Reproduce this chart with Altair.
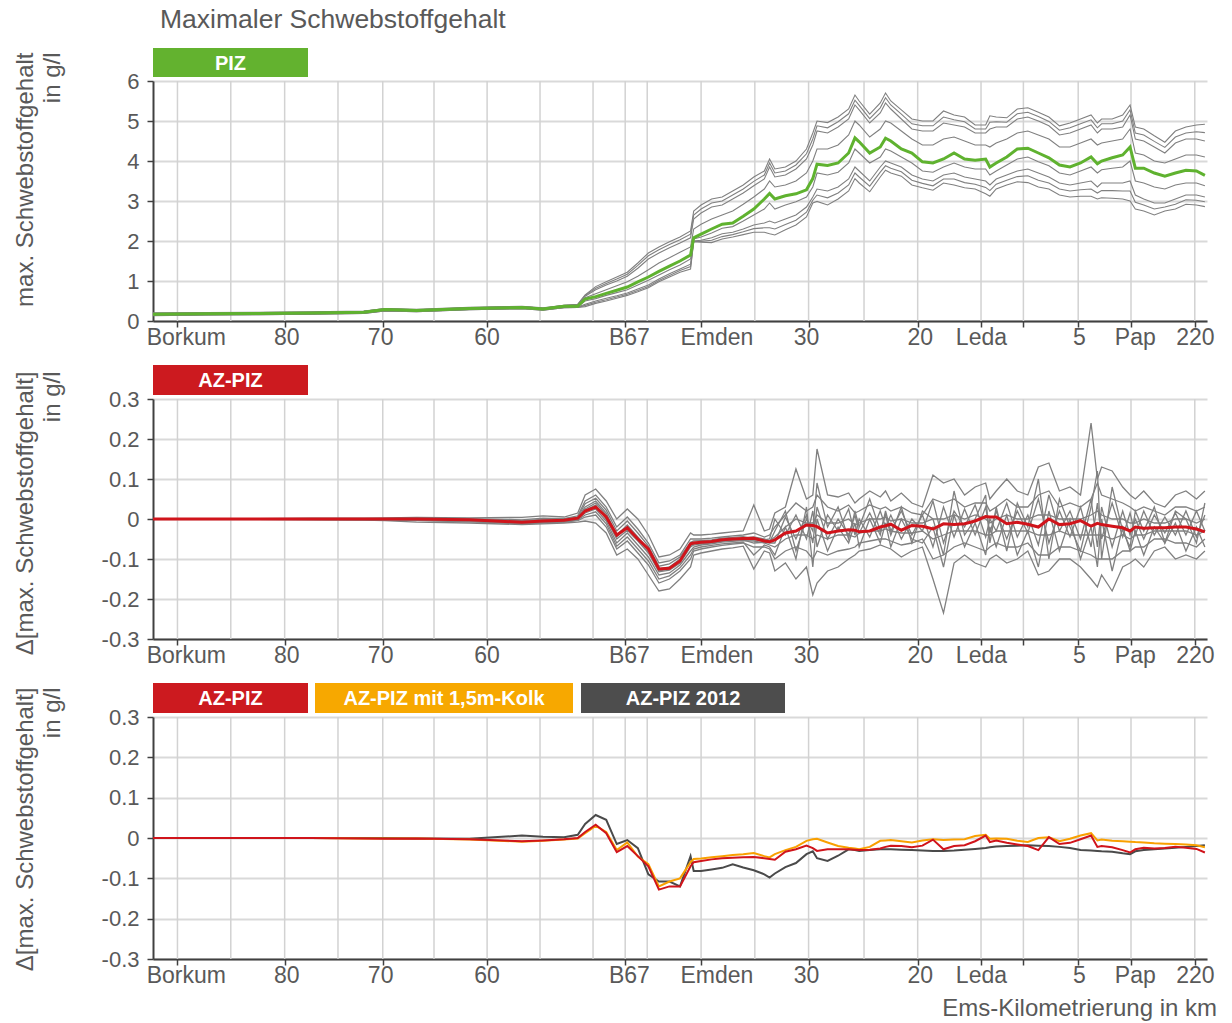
import altair as alt
import pandas as pd

FONT = "Liberation Sans"
TXT = "#595959"
AXC = "#404040"
W = 1054
H1, H2, H3 = 240, 240, 242

# ---------------- x axis (station along the river, 0..100) ----------------
TICK_POS = [2.32, 12.49, 21.8, 31.7, 44.8, 52.0, 62.2, 72.55, 78.56, 82.58, 87.78, 92.79, 98.84]
EXTRA_GRID = [7.38, 17.55, 26.66, 36.72, 41.75, 46.89, 57.1, 67.46]
LABEL_POS = [3.16, 12.7, 21.6, 31.7, 45.2, 53.5, 62.0, 72.8, 78.6, 87.9, 93.2, 98.9]
LABEL_TXT = ["Borkum", "80", "70", "60", "B67", "Emden", "30", "20", "Leda", "5", "Pap", "220"]

STATION = [0, 5, 10, 15, 20, 22, 25, 30, 35, 37, 39, 40.3,
           41, 42, 43, 44, 45, 46, 47, 48, 49, 50, 51, 51.3,
           52, 53, 54, 55, 56, 57, 58, 58.5, 59, 60, 61, 62, 62.6,
           63, 64, 65, 66, 66.6, 67, 68, 69, 69.5,
           70, 71, 72, 73, 74, 75, 76, 77, 78, 79, 79.4,
           80, 81, 82, 83, 84, 85, 86, 87, 88, 89, 89.6,
           90, 91, 92, 92.7, 93.2, 94, 95, 96, 97, 98, 99, 99.8]

# ---------------- panel 1: PIZ (g/l) ----------------
PIZ_MEAN = [.17, .18, .19, .2, .22, .29, .26, .31, .34, .3, .37, .37,
            .55, .61, .69, .77, .85, .98, 1.1, 1.24, 1.37, 1.5, 1.65, 2.08,
            2.17, 2.3, 2.42, 2.45, 2.62, 2.8, 3.05, 3.19, 3.05, 3.13, 3.18, 3.28, 3.56,
            3.92, 3.89, 3.95, 4.2, 4.58, 4.48, 4.2, 4.35, 4.57,
            4.5, 4.3, 4.2, 3.98, 3.95, 4.05, 4.2, 4.05, 4.02, 4.05, 3.85,
            3.95, 4.1, 4.3, 4.32, 4.2, 4.08, 3.9, 3.85, 3.95, 4.1, 3.93,
            4.0, 4.08, 4.15, 4.35, 3.82, 3.82, 3.7, 3.62, 3.7, 3.77, 3.75, 3.64]
PIZ_RUN_B = [.13, .15, .16, .17, .19, .25, .23, .28, .31, .27, .33, .34,
             .36, .44, .5, .57, .64, .73, .83, .98, 1.1, 1.22, 1.3, 1.98,
             1.97, 1.96, 2.05, 2.1, 2.16, 2.22, 2.22, 2.18, 2.15, 2.28, 2.4, 2.6, 2.95,
             2.99, 2.9, 3.05, 3.25, 3.56, 3.45, 3.23, 3.6, 3.77,
             3.7, 3.62, 3.4, 3.33, 3.27, 3.45, 3.4, 3.33, 3.3, 3.18, 3.12,
             3.3, 3.4, 3.48, 3.46, 3.35, 3.3, 3.15, 3.1, 3.12, 3.12, 3.05,
             3.08, 3.07, 3.05, 3.0, 2.8, 2.75, 2.65, 2.75, 2.8, 2.92, 2.9, 2.86]
PIZ_RUN_L3 = [.14, .15, .16, .17, .19, .25, .23, .28, .31, .27, .33, .34,
              .39, .47, .53, .6, .67, .76, .86, 1.01, 1.14, 1.26, 1.36, 1.99,
              1.99, 2.02, 2.11, 2.16, 2.23, 2.31, 2.33, 2.33, 2.3, 2.41, 2.52, 2.72, 3.02,
              3.15, 3.08, 3.2, 3.4, 3.7, 3.6, 3.37, 3.72, 3.88,
              3.82, 3.73, 3.52, 3.44, 3.38, 3.55, 3.55, 3.46, 3.42, 3.34, 3.26,
              3.42, 3.52, 3.61, 3.63, 3.52, 3.45, 3.3, 3.25, 3.28, 3.3, 3.2,
              3.26, 3.26, 3.25, 3.25, 2.97, 2.9, 2.8, 2.85, 2.92, 3.03, 3.02, 2.98]
PIZ_RUN_L2 = [.14, .16, .17, .18, .2, .26, .24, .29, .32, .28, .34, .35,
              .42, .5, .57, .63, .7, .8, .9, 1.05, 1.18, 1.3, 1.42, 2.0,
              2.02, 2.08, 2.18, 2.22, 2.3, 2.4, 2.45, 2.5, 2.45, 2.55, 2.65, 2.85, 3.1,
              3.3, 3.25, 3.35, 3.55, 3.85, 3.75, 3.5, 3.85, 4.0,
              3.95, 3.85, 3.65, 3.55, 3.5, 3.65, 3.7, 3.6, 3.55, 3.5, 3.4,
              3.55, 3.65, 3.75, 3.8, 3.7, 3.6, 3.45, 3.4, 3.45, 3.5, 3.35,
              3.45, 3.45, 3.45, 3.5, 3.15, 3.05, 2.95, 2.95, 3.05, 3.15, 3.15, 3.1]
PIZ_RUN_L1 = [.16, .17, .18, .19, .21, .28, .25, .3, .33, .29, .36, .36,
              .5, .56, .64, .71, .78, .9, 1.02, 1.15, 1.28, 1.4, 1.55, 2.05,
              2.1, 2.2, 2.32, 2.36, 2.5, 2.65, 2.8, 2.95, 2.8, 2.9, 2.98, 3.1, 3.35,
              3.7, 3.65, 3.72, 3.95, 4.3, 4.2, 3.95, 4.1, 4.3,
              4.25, 4.1, 3.95, 3.75, 3.72, 3.85, 3.95, 3.85, 3.8, 3.8, 3.65,
              3.75, 3.9, 4.05, 4.1, 3.98, 3.88, 3.7, 3.65, 3.75, 3.85, 3.7,
              3.78, 3.82, 3.85, 4.0, 3.5, 3.45, 3.35, 3.3, 3.4, 3.45, 3.45, 3.38]
PIZ_RUN_U2 = [.18, .19, .2, .21, .23, .3, .27, .32, .35, .31, .38, .39,
              .58, .68, .78, .88, .98, 1.12, 1.28, 1.45, 1.58, 1.72, 1.85, 2.3,
              2.42, 2.55, 2.65, 2.75, 2.92, 3.1, 3.3, 3.5, 3.35, 3.4, 3.5, 3.7, 4.0,
              4.3, 4.3, 4.4, 4.65, 5.0, 4.9, 4.6, 4.8, 5.0,
              4.95, 4.75, 4.55, 4.4, 4.4, 4.55, 4.6, 4.5, 4.4, 4.4, 4.35,
              4.45, 4.55, 4.7, 4.75, 4.65, 4.55, 4.35, 4.35, 4.45, 4.55, 4.4,
              4.45, 4.5, 4.55, 4.8, 4.2, 4.15, 4.0, 3.95, 4.05, 4.15, 4.15, 4.1]
PIZ_RUN_U1 = [.19, .2, .21, .22, .24, .3, .28, .33, .36, .32, .38, .4,
              .62, .78, .9, 1.0, 1.12, 1.32, 1.55, 1.7, 1.83, 1.95, 2.08, 2.55,
              2.7, 2.85, 2.9, 3.05, 3.2, 3.38, 3.55, 3.85, 3.6, 3.65, 3.8, 4.05, 4.4,
              4.75, 4.7, 4.85, 5.05, 5.4, 5.28, 4.95, 5.2, 5.45,
              5.3, 5.05, 4.8, 4.75, 4.75, 4.95, 4.9, 4.85, 4.7, 4.7, 4.8,
              4.85, 4.85, 5.05, 5.1, 5.0, 4.88, 4.65, 4.7, 4.8, 4.9, 4.7,
              4.8, 4.8, 4.85, 5.15, 4.55, 4.5, 4.35, 4.2, 4.45, 4.55, 4.55, 4.5]
PIZ_RUN_U3 = [.2, .2, .21, .22, .24, .31, .28, .33, .36, .32, .39, .41,
              .64, .82, .94, 1.05, 1.17, 1.39, 1.63, 1.78, 1.91, 2.03, 2.17, 2.65,
              2.8, 2.95, 3.0, 3.15, 3.3, 3.49, 3.65, 3.95, 3.7, 3.75, 3.9, 4.18, 4.55,
              4.88, 4.83, 4.98, 5.18, 5.52, 5.39, 5.06, 5.33, 5.58,
              5.4, 5.17, 4.93, 4.88, 4.88, 5.1, 5.03, 4.98, 4.8, 4.8, 4.97,
              4.98, 4.97, 5.18, 5.22, 5.11, 4.99, 4.77, 4.83, 4.93, 5.03, 4.83,
              4.93, 4.93, 5.0, 5.28, 4.7, 4.65, 4.49, 4.34, 4.6, 4.7, 4.73, 4.71]
PIZ_RUN_T = [.2, .21, .22, .23, .25, .31, .29, .34, .37, .33, .39, .42,
             .65, .86, .98, 1.1, 1.22, 1.45, 1.7, 1.85, 1.98, 2.1, 2.25, 2.75,
             2.9, 3.05, 3.1, 3.25, 3.4, 3.6, 3.75, 4.05, 3.8, 3.85, 4.0, 4.3, 4.7,
             5.0, 4.96, 5.1, 5.3, 5.65, 5.5, 5.17, 5.45, 5.7,
             5.5, 5.28, 5.05, 5.0, 5.0, 5.25, 5.15, 5.1, 4.9, 4.9, 5.13,
             5.1, 5.08, 5.3, 5.33, 5.22, 5.1, 4.88, 4.95, 5.05, 5.15, 4.95,
             5.05, 5.05, 5.15, 5.4, 4.85, 4.8, 4.63, 4.47, 4.75, 4.85, 4.9, 4.92]

# ---------------- panel 2: AZ-PIZ (delta, g/l) ----------------
AZ_MEAN = [0, 0, 0, 0, 0, 0, 0, -0.002, -0.008, -0.005, -0.003, 0.002,
           0.02, 0.03, 0.005, -0.04, -0.022, -0.05, -0.075, -0.125, -0.123, -0.105, -0.062, -0.06,
           -0.058, -0.056, -0.052, -0.05, -0.049, -0.048, -0.055, -0.057, -0.052, -0.035, -0.03, -0.015, -0.016,
           -0.019, -0.035, -0.03, -0.027, -0.028, -0.032, -0.03, -0.02, -0.017,
           -0.013, -0.028, -0.016, -0.018, -0.025, -0.012, -0.014, -0.012, -0.005, 0.006, 0.005,
           0.005, -0.012, -0.008, -0.013, -0.02, 0.0, -0.014, -0.012, -0.004, -0.018, -0.011,
           -0.014, -0.018, -0.022, -0.03, -0.02, -0.023, -0.022, -0.022, -0.02, -0.02, -0.025, -0.032]
AZ_RUN_1 = [0, 0, 0.001, 0.002, 0.002, 0.003, 0.004, 0.003, 0.004, 0.008, 0.005, 0.015,
            0.06, 0.075, 0.045, 0.0, 0.025, 0.0, -0.04, -0.095, -0.09, -0.075, -0.035, -0.04,
            -0.04, -0.038, -0.035, -0.032, -0.03, 0.035, -0.03, -0.025, 0.015, 0.03, 0.125, 0.05, 0.06,
            0.175, 0.06, 0.055, 0.065, 0.04, 0.05, 0.07, 0.055, 0.07,
            0.045, 0.065, 0.04, 0.03, 0.11, 0.09, 0.1, 0.06, 0.08, 0.09, 0.05,
            0.07, 0.1, 0.07, 0.06, 0.13, 0.14, 0.07, 0.08, 0.06, 0.24, 0.1,
            0.13, 0.12, 0.08, 0.06, 0.05, 0.07, 0.04, 0.03, 0.06, 0.07, 0.05, 0.07]
AZ_RUN_2 = [0, 0, 0, 0.001, 0.001, 0.001, 0.002, 0.001, -0.002, 0.002, 0.001, 0.008,
            0.045, 0.06, 0.03, -0.02, 0.005, -0.025, -0.06, -0.11, -0.105, -0.09, -0.05, -0.05,
            -0.05, -0.048, -0.045, -0.042, -0.04, -0.035, -0.045, -0.04, -0.02, 0.01, 0.04, 0.02, 0.03,
            0.06, 0.03, 0.02, 0.035, 0.015, 0.02, 0.035, 0.025, 0.03,
            0.02, 0.03, 0.015, 0.01, 0.05, 0.04, 0.05, 0.03, 0.04, 0.04, 0.02,
            0.03, 0.05, 0.03, 0.03, 0.06, 0.07, 0.03, 0.04, 0.03, 0.05, 0.09,
            0.06, 0.05, 0.04, 0.03, 0.02, 0.03, 0.02, 0.01, 0.03, 0.03, 0.02, 0.03]
AZ_RUN_3 = [0, 0, 0, 0, 0, 0, 0, -0.002, -0.006, -0.003, -0.002, 0.003,
            0.03, 0.045, 0.015, -0.04, -0.015, -0.045, -0.075, -0.125, -0.12, -0.1, -0.065, -0.06,
            -0.058, -0.055, -0.052, -0.05, -0.047, -0.045, -0.05, -0.055, -0.045, -0.02, 0.0, -0.01, -0.01,
            0.01, -0.01, -0.01, 0.0, -0.015, -0.01, 0.0, 0.0, 0.005,
            -0.005, 0.0, -0.01, -0.01, 0.0, 0.0, 0.01, 0.0, 0.01, 0.0, -0.01,
            0.0, 0.01, 0.0, 0.0, 0.01, 0.01, 0.0, 0.0, 0.0, 0.01, 0.02,
            0.01, 0.0, 0.0, -0.01, -0.01, 0.0, -0.01, -0.01, 0.0, 0.0, -0.01, 0.0]
AZ_RUN_4 = [0, 0, 0, 0, -0.001, -0.001, -0.002, -0.004, -0.009, -0.006, -0.005, 0.0,
            0.015, 0.025, -0.005, -0.06, -0.035, -0.065, -0.095, -0.14, -0.135, -0.115, -0.08, -0.07,
            -0.065, -0.062, -0.058, -0.056, -0.054, -0.055, -0.06, -0.065, -0.07, -0.05, -0.04, -0.04, -0.05,
            -0.04, -0.05, -0.04, -0.04, -0.045, -0.035, -0.03, -0.03, -0.025,
            -0.03, -0.035, -0.035, -0.03, -0.05, -0.04, -0.03, -0.03, -0.03, -0.04, -0.04,
            -0.03, -0.03, -0.03, -0.03, -0.04, -0.04, -0.03, -0.04, -0.04, -0.04, -0.04,
            -0.04, -0.05, -0.04, -0.05, -0.04, -0.04, -0.03, -0.03, -0.03, -0.03, -0.04, -0.03]
AZ_RUN_5 = [0, 0, 0, -0.001, -0.002, -0.003, -0.004, -0.007, -0.012, -0.01, -0.008, -0.004,
            0.005, 0.01, -0.02, -0.075, -0.055, -0.085, -0.115, -0.16, -0.15, -0.13, -0.1, -0.08,
            -0.075, -0.07, -0.066, -0.063, -0.06, -0.07, -0.07, -0.075, -0.1, -0.08, -0.07, -0.08, -0.1,
            -0.08, -0.09, -0.08, -0.075, -0.07, -0.06, -0.055, -0.05, -0.05,
            -0.055, -0.065, -0.06, -0.05, -0.1, -0.09, -0.07, -0.06, -0.07, -0.08, -0.07,
            -0.06, -0.07, -0.07, -0.06, -0.09, -0.09, -0.07, -0.07, -0.08, -0.09, -0.1,
            -0.1, -0.1, -0.08, -0.08, -0.07, -0.07, -0.05, -0.05, -0.06, -0.06, -0.07, -0.05]
AZ_RUN_6 = [0, 0, -0.001, -0.002, -0.003, -0.004, -0.008, -0.01, -0.014, -0.012, -0.01, -0.008,
            -0.005, -0.01, -0.035, -0.09, -0.075, -0.1, -0.14, -0.18, -0.175, -0.15, -0.12, -0.09,
            -0.085, -0.08, -0.075, -0.072, -0.068, -0.125, -0.08, -0.085, -0.13, -0.11, -0.15, -0.12, -0.19,
            -0.16, -0.13, -0.12, -0.1, -0.09, -0.08, -0.075, -0.065, -0.07,
            -0.075, -0.095, -0.08, -0.07, -0.15, -0.235, -0.11, -0.09, -0.11, -0.12, -0.1,
            -0.09, -0.11, -0.1, -0.08, -0.14, -0.13, -0.1, -0.1, -0.12, -0.15, -0.17,
            -0.14, -0.18, -0.12, -0.11, -0.1, -0.12, -0.08, -0.07, -0.1, -0.09, -0.1, -0.08]
AZ_RUN_7 = [0, 0, 0, 0, 0, 0, 0, -0.001, -0.004, -0.001, 0.0, 0.005,
            0.038, 0.052, 0.022, -0.03, -0.005, -0.035, -0.068, -0.118, -0.112, -0.095, -0.058, -0.055,
            -0.054, -0.052, -0.048, -0.046, -0.044, -0.05, -0.052, -0.05,
            0.0, -0.04, 0.01, -0.05, 0.02, -0.07, 0.01, -0.03, 0.025, -0.04, 0.0, -0.045, 0.02, -0.02,
            0.01, -0.05, 0.0, -0.03, 0.045, -0.06, 0.02, -0.02, 0.035, -0.045, 0.0,
            -0.03, 0.04, -0.045, 0.01, -0.065, 0.06, -0.03, 0.02, -0.05, 0.05, -0.07,
            0.03, -0.07, 0.02, -0.04, 0.0, -0.05, 0.01, -0.035, 0.015, -0.04, 0.02, -0.03]
AZ_RUN_8 = [0, 0, 0, 0, 0, 0, 0, -0.003, -0.01, -0.008, -0.006, 0.001,
            0.022, 0.035, 0.0, -0.05, -0.028, -0.055, -0.085, -0.132, -0.128, -0.11, -0.07, -0.065,
            -0.062, -0.06, -0.056, -0.053, -0.052, -0.06, -0.058, -0.06,
            -0.06, 0.005, -0.05, 0.01, -0.06, 0.03, -0.05, 0.0, -0.04, 0.01, -0.035, 0.015, -0.04, 0.02,
            -0.03, 0.02, -0.04, 0.01, -0.07, 0.03, -0.045, 0.025, -0.04, 0.03, -0.035,
            0.02, -0.05, 0.02, -0.035, 0.05, -0.06, 0.02, -0.045, 0.03, -0.07, 0.04,
            -0.05, 0.04, -0.045, 0.015, -0.04, 0.02, -0.04, 0.005, -0.04, 0.02, -0.045, 0.01]
AZ_RUN_9 = [0, 0, 0, 0, 0, 0, -0.001, -0.003, -0.007, -0.004, -0.003, 0.002,
            0.025, 0.04, 0.01, -0.045, -0.02, -0.05, -0.08, -0.13, -0.125, -0.105, -0.068, -0.062,
            -0.06, -0.058, -0.054, -0.052, -0.05, -0.052, -0.055, -0.058,
            -0.03, 0.02, -0.08, 0.0, -0.03, 0.09, -0.02, 0.03, -0.05, 0.02, -0.02, 0.05, -0.03, 0.01,
            -0.04, 0.03, -0.06, 0.02, 0.0, -0.09, 0.07, -0.04, 0.0, 0.06, -0.06,
            0.03, -0.08, 0.04, -0.02, 0.1, -0.1, 0.05, -0.02, -0.08, 0.03, 0.12,
            -0.1, 0.08, -0.03, -0.07, 0.02, -0.03, 0.03, -0.06, 0.02, 0.0, -0.06, 0.04]
AZ_RUN_10 = [0, 0, 0, 0, 0, -0.001, -0.003, -0.005, -0.011, -0.009, -0.007, -0.002,
             0.01, 0.018, -0.012, -0.068, -0.045, -0.075, -0.105, -0.15, -0.142, -0.122, -0.09, -0.075,
             -0.07, -0.066, -0.062, -0.06, -0.058, -0.09, -0.065, -0.07,
             -0.09, -0.02, -0.1, 0.03, -0.12, 0.0, -0.08, -0.02, -0.06, -0.01, -0.07, 0.0, -0.06, -0.01,
             -0.07, 0.0, -0.05, -0.06, -0.02, -0.12, 0.01, -0.07, -0.01, -0.09, -0.02,
             -0.07, 0.01, -0.09, -0.03, -0.12, 0.02, -0.08, 0.0, -0.1, -0.02, -0.12,
             0.0, -0.13, -0.02, -0.08, -0.03, -0.09, -0.02, -0.06, -0.01, -0.08, -0.02, -0.07]

# ---------------- panel 3: comparison (delta, g/l) ----------------
CMP_AZ = [0, 0, 0, 0, -0.001, -0.002, -0.001, -0.003, -0.008, -0.006, -0.003, 0.0,
          0.015, 0.033, 0.012, -0.035, -0.02, -0.045, -0.07, -0.128, -0.12, -0.12, -0.07, -0.06,
          -0.057, -0.053, -0.05, -0.049, -0.048, -0.047, -0.05, -0.052, -0.054, -0.034, -0.028, -0.019, -0.025,
          -0.032, -0.028, -0.028, -0.028, -0.029, -0.03, -0.029, -0.026, -0.022,
          -0.019, -0.02, -0.023, -0.019, -0.004, -0.028, -0.02, -0.018, -0.008, 0.006, -0.01,
          -0.006, -0.012, -0.016, -0.02, -0.03, 0.002, -0.015, -0.012, -0.003, 0.006, -0.022,
          -0.02, -0.023, -0.03, -0.036, -0.028, -0.024, -0.026, -0.025, -0.022, -0.024, -0.027, -0.036]
CMP_KOLK = [0, 0, 0, 0, -0.001, -0.001, -0.001, -0.004, -0.009, -0.007, -0.004, -0.001,
            0.012, 0.03, 0.015, -0.03, -0.011, -0.046, -0.065, -0.12, -0.108, -0.1, -0.06, -0.052,
            -0.051, -0.048, -0.045, -0.042, -0.04, -0.037, -0.045, -0.048, -0.04, -0.03, -0.022, -0.007, -0.003,
            -0.002, -0.011, -0.02, -0.024, -0.026, -0.028, -0.022, -0.007, -0.006,
            -0.005, -0.008, -0.011, -0.006, -0.003, -0.005, -0.004, -0.003, 0.005, 0.008, -0.002,
            -0.001, -0.002, -0.007, -0.01, 0.0, 0.002, -0.008, -0.002, 0.006, 0.012, -0.006,
            -0.004, -0.007, -0.008, -0.009, -0.01, -0.011, -0.013, -0.014, -0.015, -0.016, -0.018, -0.023]
CMP_2012 = [0, 0, 0, 0, 0, 0, -0.001, -0.002, 0.006, 0.003, 0.002, 0.008,
            0.035, 0.057, 0.045, -0.015, -0.005, -0.025, -0.09, -0.108, -0.108, -0.12, -0.045, -0.082,
            -0.082, -0.078, -0.074, -0.065, -0.073, -0.08, -0.09, -0.098, -0.088, -0.072, -0.062, -0.04, -0.033,
            -0.05, -0.057, -0.044, -0.028, -0.03, -0.032, -0.03, -0.028, -0.028,
            -0.028, -0.029, -0.03, -0.031, -0.032, -0.032, -0.031, -0.029, -0.027, -0.025, -0.023,
            -0.021, -0.02, -0.019, -0.018, -0.019, -0.02, -0.022, -0.025, -0.03, -0.031, -0.032,
            -0.033, -0.034, -0.038, -0.04, -0.033, -0.03, -0.028, -0.026, -0.024, -0.022, -0.02, -0.018]

GREEN = "#5fb22f"
RED = "#d0141b"
ORANGE = "#f9a000"
DARK = "#4a4a4a"
GRAYLINE = "#808080"


def long_table(runs):
    rows = []
    for name, vals in runs.items():
        for s, v in zip(STATION, vals):
            rows.append({"s": s, "v": v, "run": name})
    return pd.DataFrame(rows)


xscale = alt.Scale(domain=[0, 100], nice=False, zero=False)
grid_df = pd.DataFrame({"s": TICK_POS + EXTRA_GRID})
label_df = pd.DataFrame({"s": LABEL_POS, "t": LABEL_TXT})

XAXIS = alt.Axis(values=TICK_POS, labels=False, ticks=True, tickSize=6, tickColor=AXC,
                 tickWidth=1.5, domainColor=AXC, domainWidth=2, grid=False, title=None)


def yaxis(values, title_lines, title_y, fmt_expr):
    return alt.Axis(values=values, labelExpr=fmt_expr, labelFont=FONT, labelFontSize=22,
                    labelColor=TXT, labelPadding=8, tickSize=6, tickColor=AXC, tickWidth=1.5,
                    domainColor=AXC, domainWidth=2, grid=True, gridColor="#d9d9d9", gridWidth=2,
                    title=title_lines, titleFont=FONT, titleFontSize=24, titleFontWeight="normal",
                    titleColor=TXT, titleAngle=270, titleAlign="right", titleBaseline="top",
                    titleX=-140, titleY=title_y, titleLineHeight=27)


def panel(height, ydomain, yvals, ytitle, title_y, fmt_expr, gray_df, gray_w, lines, boxes, extra=None):
    yscale = alt.Scale(domain=ydomain, nice=False, zero=False)
    yax = yaxis(yvals, ytitle, title_y, fmt_expr)
    X = alt.X("s:Q", scale=xscale, axis=XAXIS)
    Y = alt.Y("v:Q", scale=yscale, axis=yax)
    layers = [alt.Chart(grid_df).mark_rule(color="#d2d2d2", strokeWidth=1.5).encode(x=X)]
    if gray_df is not None:
        layers.append(alt.Chart(gray_df).mark_line(color=GRAYLINE, strokeWidth=gray_w, clip=True).encode(
            x=X, y=Y, detail="run:N"))
    for vals, col, sw in lines:
        df = pd.DataFrame({"s": STATION[:len(vals)], "v": vals[:len(STATION)]})
        layers.append(alt.Chart(df).mark_line(color=col, strokeWidth=sw, clip=True).encode(x=X, y=Y))
    layers.append(alt.Chart(label_df).mark_text(font=FONT, fontSize=23, color=TXT, baseline="middle").encode(
        x=X, y=alt.value(height + 17), text="t:N"))
    for (txt, col, x0, x1, y0, y1) in boxes:
        bdf = pd.DataFrame({"t": [txt]})
        layers.append(alt.Chart(bdf).mark_rect(color=col).encode(
            x=alt.value(x0), x2=alt.value(x1), y=alt.value(y0), y2=alt.value(y1)))
        layers.append(alt.Chart(bdf).mark_text(font=FONT, fontSize=20, fontWeight="bold", color="white",
                                               baseline="middle", align="center").encode(
            x=alt.value((x0 + x1) / 2), y=alt.value((y0 + y1) / 2 + 1), text="t:N"))
    if extra is not None:
        layers.extend(extra)
    return alt.layer(*layers).properties(width=W, height=height)


title_layer = alt.Chart(pd.DataFrame({"t": ["Maximaler Schwebstoffgehalt"]})).mark_text(
    font=FONT, fontSize=26.5, color=TXT, align="left", baseline="middle").encode(
    x=alt.value(7), y=alt.value(-61), text="t:N")

xtitle_layer = alt.Chart(pd.DataFrame({"t": ["Ems-Kilometrierung in km"]})).mark_text(
    font=FONT, fontSize=24, color=TXT, align="right", baseline="middle").encode(
    x=alt.value(1064), y=alt.value(292), text="t:N")

gray1 = long_table({"b": PIZ_RUN_B, "l3": PIZ_RUN_L3, "l2": PIZ_RUN_L2, "l1": PIZ_RUN_L1,
                    "u2": PIZ_RUN_U2, "u1": PIZ_RUN_U1, "u3": PIZ_RUN_U3, "t": PIZ_RUN_T})
gray2 = long_table({"r1": AZ_RUN_1, "r2": AZ_RUN_2, "r3": AZ_RUN_3, "r4": AZ_RUN_4,
                    "r5": AZ_RUN_5, "r6": AZ_RUN_6, "r7": AZ_RUN_7, "r8": AZ_RUN_8,
                    "r9": AZ_RUN_9, "r10": AZ_RUN_10})

int_fmt = "toString(datum.value)"
dec_fmt = "datum.value == 0 ? '0' : toString(round(datum.value * 10) / 10)"
DELTA_VALS = [-0.3, -0.2, -0.1, 0, 0.1, 0.2, 0.3]

p1 = panel(H1, [0, 6], [0, 1, 2, 3, 4, 5, 6], ["max. Schwebstoffgehalt", "in g/l"], -29, int_fmt,
           gray1, 1.1, [(PIZ_MEAN, GREEN, 3)],
           [("PIZ", "#63b22f", 0, 155, -33, -4)], extra=[title_layer])
p2 = panel(H2, [-0.3, 0.3], DELTA_VALS, ["\u0394[max. Schwebstoffgehalt]", "in g/l"], -28, dec_fmt,
           gray2, 1.3, [(AZ_MEAN, RED, 3)],
           [("AZ-PIZ", "#cc1a1f", 0, 155, -34, -4)])
p3 = panel(H3, [-0.3, 0.3], DELTA_VALS, ["\u0394[max. Schwebstoffgehalt]", "in g/l"], -30, dec_fmt,
           None, 1, [(CMP_2012, DARK, 2), (CMP_KOLK, ORANGE, 2), (CMP_AZ, RED, 2)],
           [("AZ-PIZ", "#cc1a1f", 0, 155, -34, -4),
            ("AZ-PIZ  mit 1,5m-Kolk", "#f7a800", 162, 420, -34, -4),
            ("AZ-PIZ  2012", "#4d4d4d", 428, 632, -34, -4)],
           extra=[xtitle_layer])

chart = alt.vconcat(p1, p2, p3, spacing=78, bounds="flush").configure_view(stroke=None).properties(
    padding={"left": 13, "top": 7, "right": 4, "bottom": 4})

chart.save("out.html", embed_options={"renderer": "svg", "actions": False})
